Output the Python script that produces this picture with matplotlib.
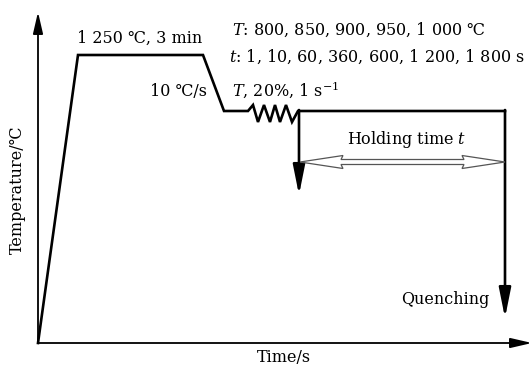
import numpy as np
import matplotlib
matplotlib.use('Agg')
from matplotlib import pyplot as plt
from matplotlib.patches import Polygon

plt.rcParams['font.family'] = ['DejaVu Serif', 'DejaVu Sans']
plt.rcParams['mathtext.fontset'] = 'dejavuserif'

#schematic profile (arbitrary time / temperature units)
profTime = [0, 40, 165, 186, 210, 215, 220, 226, 232, 237, 242, 248, 254, 260, 467]
profTemp = [0, 288, 288, 232, 232, 238, 221, 238, 221, 238, 221, 238, 221, 232, 232]
deformEnd = 261      #start of holding / first quench
holdEnd = 467        #end of holding / final quench
firstQuenchTip = 148
finalQuenchTip = 25
holdArrowY = 181

W, H = 532, 366
fig = plt.figure(figsize=(W/100, H/100), dpi=100)
ax = fig.add_axes([38/W, 23/H, 494/W, 331/H])
ax.set_xlim(0, 494)
ax.set_ylim(0, 331)
ax.axis('off')

#axes with arrows
axArrow = dict(arrowstyle='-|>,head_length=1.3,head_width=0.3', lw=1.3, color='k',
               mutation_scale=10, shrinkA=0, shrinkB=0)
ax.annotate('', xy=(0, 331), xytext=(0, 0), arrowprops=axArrow, annotation_clip=False)
ax.annotate('', xy=(494, 0), xytext=(0, 0), arrowprops=axArrow, annotation_clip=False)

#thermal path
ax.plot(profTime, profTemp, color='k', lw=1.9, solid_joinstyle='miter', clip_on=False)

qArrow = dict(arrowstyle='-|>,head_length=1.8,head_width=0.36', lw=1.9, color='k',
              mutation_scale=10, shrinkA=0, shrinkB=0)
ax.annotate('', xy=(deformEnd, firstQuenchTip), xytext=(deformEnd, profTemp[-1]+1), arrowprops=qArrow)
ax.annotate('', xy=(holdEnd, finalQuenchTip), xytext=(holdEnd, profTemp[-1]+1), arrowprops=qArrow)

#hollow double arrow for holding time
x0, x1 = deformEnd + 1, holdEnd
hl, hw, sw = 43, 6.5, 2.5
yc = holdArrowY
pts = [(x0, yc), (x0+hl, yc+hw), (x0+hl-2, yc+sw), (x1-hl+2, yc+sw), (x1-hl, yc+hw), (x1, yc),
       (x1-hl, yc-hw), (x1-hl+2, yc-sw), (x0+hl-2, yc-sw), (x0+hl, yc-hw)]
ax.add_patch(Polygon(pts, closed=True, facecolor='white', edgecolor='#555555', lw=0.9, zorder=3))

fs = 11.5
ax.text(102, 305, '1 250 ℃, 3 min', fontsize=fs, ha='center', va='center')
ax.text(194, 313, '$T$: 800, 850, 900, 950, 1 000 ℃', fontsize=fs, ha='left', va='center')
ax.text(191, 286, '$t$: 1, 10, 60, 360, 600, 1 200, 1 800 s', fontsize=fs, ha='left', va='center')
ax.text(169, 252, '10 ℃/s', fontsize=fs, ha='right', va='center')
ax.text(194, 253, '$T$, 20%, 1 s$^{-1}$', fontsize=fs, ha='left', va='center')
ax.text(369, 203, 'Holding time $t$', fontsize=fs, ha='center', va='center')
ax.text(452, 43, 'Quenching', fontsize=fs, ha='right', va='center')
ax.text(246, -14, 'Time/s', fontsize=fs, ha='center', va='center')
ax.text(-21, 153, 'Temperature/℃', fontsize=fs, ha='center', va='center', rotation=90)

fig.savefig('out.png', dpi=100)
